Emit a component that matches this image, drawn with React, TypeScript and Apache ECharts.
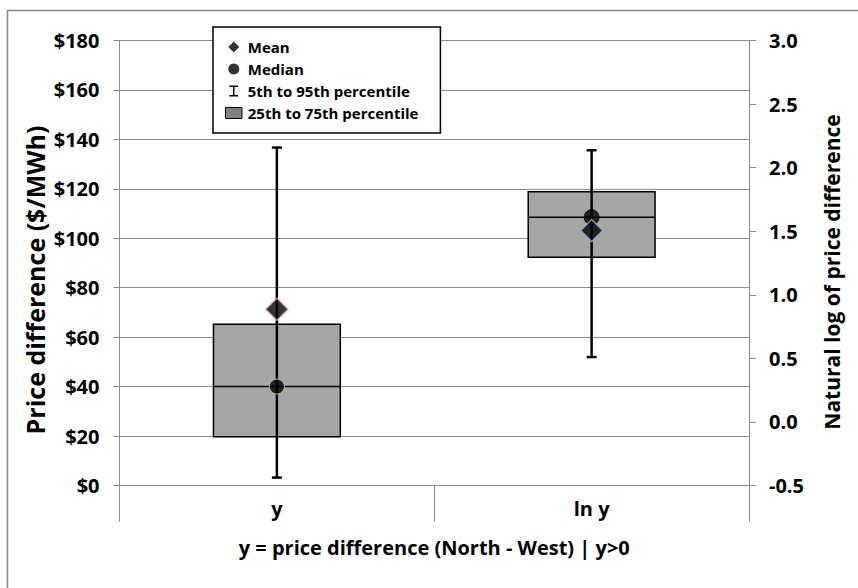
import React, { useEffect, useRef } from 'react';
import * as echarts from 'echarts';

// ---- data ----
const categories = ['y', 'ln y'];
const groupLabel = ['y = price difference (North - West) | y>0'];
const p5 = [3.2, 0.51];
const p25 = [19.7, 1.295];
const medians = [40.0, 1.61];
const p75 = [65.2, 1.81];
const p95 = [136.7, 2.137];
const means = [71.3, 1.505];
const leftRange = [0, 180, 20];
const rightRange = [-0.5, 3.0, 0.5];
const meanBorders = ['#d99694', '#95b3d7'];
const medianBorders = ['#c3d69b', '#000000'];

const FONT = '"Open Sans"';
const GRID_COLOR = '#8c8c8c';

const boxRender = (params: any, api: any) => {
  const xi = api.value(0);
  const lo = api.coord([xi, api.value(1)]);
  const md = api.coord([xi, api.value(2)]);
  const hi = api.coord([xi, api.value(3)]);
  const w = api.size([1, 0])[0] * 0.403;
  const x0 = lo[0] - w / 2;
  return {
    type: 'group',
    children: [
      {
        type: 'rect',
        shape: { x: x0, y: hi[1], width: w, height: lo[1] - hi[1] },
        style: { fill: '#a6a6a6', stroke: '#000', lineWidth: 1.5 },
      },
      {
        type: 'line',
        shape: { x1: x0, y1: md[1], x2: x0 + w, y2: md[1] },
        style: { stroke: '#000', lineWidth: 1.5 },
      },
    ],
  };
};

const whiskerRender = (params: any, api: any) => {
  const xi = api.value(0);
  const lo = api.coord([xi, api.value(1)]);
  const hi = api.coord([xi, api.value(2)]);
  const x = lo[0];
  const cap = 5;
  const st = { stroke: '#000', lineWidth: 2.5 };
  return {
    type: 'group',
    children: [
      { type: 'line', shape: { x1: x, y1: hi[1], x2: x, y2: lo[1] }, style: st },
      { type: 'line', shape: { x1: x - cap, y1: hi[1], x2: x + cap, y2: hi[1] }, style: st },
      { type: 'line', shape: { x1: x - cap, y1: lo[1], x2: x + cap, y2: lo[1] }, style: st },
    ],
  };
};

export default function App() {
  const ref = useRef<HTMLDivElement>(null);
  useEffect(() => {
    if (!ref.current) return;
    const chart = echarts.init(ref.current, null, { renderer: 'svg' });

    const boxSeries = categories.map((_, i) => ({
      name: '25th to 75th percentile',
      type: 'custom',
      xAxisIndex: 0,
      yAxisIndex: i,
      renderItem: boxRender,
      itemStyle: { color: '#808080', borderColor: '#000' },
      encode: { x: 0, y: [1, 2, 3] },
      data: [[i, p25[i], medians[i], p75[i]]],
      clip: false,
      z: 2,
    }));
    const whiskerSeries = categories.map((_, i) => ({
      name: '5th to 95th percentile',
      type: 'custom',
      xAxisIndex: 0,
      yAxisIndex: i,
      renderItem: whiskerRender,
      itemStyle: { color: '#000' },
      encode: { x: 0, y: [1, 2] },
      data: [[i, p5[i], p95[i]]],
      clip: false,
      z: 3,
    }));
    const medianSeries = categories.map((_, i) => ({
      name: 'Median',
      type: 'scatter',
      xAxisIndex: 0,
      yAxisIndex: i,
      symbol: 'circle',
      symbolSize: 15,
      itemStyle: { color: '#000', borderColor: medianBorders[i], borderWidth: 1 },
      data: [[i, medians[i]]],
      z: 4,
    }));
    const meanSeries = categories.map((_, i) => ({
      name: 'Mean',
      type: 'scatter',
      xAxisIndex: 0,
      yAxisIndex: i,
      symbol: 'diamond',
      symbolSize: 22,
      itemStyle: { color: '#000', borderColor: meanBorders[i], borderWidth: 1.5 },
      data: [[i, means[i]]],
      z: 5,
    }));

    const labelStyle = { fontFamily: FONT, fontWeight: 'bold', color: '#000', fontSize: 20 };

    const option: any = {
      animation: false,
      backgroundColor: '#ffffff',
      textStyle: { fontFamily: FONT, fontWeight: 'bold', color: '#000' },
      grid: { left: 119.5, right: 109, top: 40.5, bottom: 102.5 },
      legend: {
        left: 213,
        top: 27,
        orient: 'vertical',
        backgroundColor: '#fff',
        borderColor: '#000',
        borderWidth: 1.5,
        borderRadius: 0,
        padding: [12, 22, 12, 12],
        itemGap: 6,
        itemWidth: 18,
        itemHeight: 11,
        selectedMode: false,
        z: 20,
        textStyle: { fontFamily: FONT, fontWeight: 'bold', fontSize: 15, lineHeight: 16, color: '#000' },
        data: [
          { name: 'Mean', icon: 'path://M5,0 L10,5 L5,10 L0,5 Z', itemStyle: { color: '#000', borderWidth: 0 } },
          { name: 'Median', icon: 'circle', itemStyle: { color: '#000', borderWidth: 0 } },
          {
            name: '5th to 95th percentile',
            icon: 'path://M0,0 L8,0 L8,1.4 L4.7,1.4 L4.7,8.6 L8,8.6 L8,10 L0,10 L0,8.6 L3.3,8.6 L3.3,1.4 L0,1.4 Z',
            itemStyle: { color: '#000', borderWidth: 0 },
          },
          {
            name: '25th to 75th percentile',
            icon: 'path://M0,0 L18,0 L18,12 L0,12 Z',
            itemStyle: { color: '#808080', borderColor: '#000', borderWidth: 1 },
          },
        ],
      },
      xAxis: [
        {
          type: 'category',
          data: categories,
          boundaryGap: true,
          axisLine: { show: true, lineStyle: { color: GRID_COLOR, width: 1 } },
          axisTick: { show: true, length: 36, alignWithLabel: false, lineStyle: { color: GRID_COLOR } },
          axisLabel: { ...labelStyle, margin: 13, interval: 0 },
          splitLine: { show: false },
        },
        {
          type: 'category',
          data: groupLabel,
          position: 'bottom',
          boundaryGap: true,
          axisLine: { show: false },
          axisTick: { show: true, length: 74, alignWithLabel: false, lineStyle: { color: GRID_COLOR } },
          axisLabel: { ...labelStyle, margin: 52, interval: 0 },
          splitLine: { show: false },
        },
      ],
      yAxis: [
        {
          type: 'value',
          min: leftRange[0],
          max: leftRange[1],
          interval: leftRange[2],
          position: 'left',
          axisLine: { show: true, lineStyle: { color: GRID_COLOR } },
          axisTick: { show: true, length: 6, lineStyle: { color: GRID_COLOR } },
          axisLabel: { ...labelStyle, margin: 20, formatter: (v: number) => '$' + v },
          splitLine: { show: true, lineStyle: { color: GRID_COLOR, width: 1 } },
        },
        {
          type: 'value',
          min: rightRange[0],
          max: rightRange[1],
          interval: rightRange[2],
          position: 'right',
          axisLine: { show: true, lineStyle: { color: GRID_COLOR } },
          axisTick: { show: true, length: 7, lineStyle: { color: GRID_COLOR } },
          axisLabel: { ...labelStyle, margin: 20, formatter: (v: number) => v.toFixed(1) },
          splitLine: { show: false },
        },
      ],
      graphic: [
        {
          type: 'rect',
          shape: { x: 7.5, y: 10.5, width: 860, height: 600 },
          style: { fill: 'none', stroke: '#868686', lineWidth: 1.5 },
          silent: true,
          z: -10,
        },
        {
          type: 'text',
          x: 35,
          y: 280,
          rotation: Math.PI / 2,
          style: {
            text: 'Price difference ($/MWh)',
            font: `bold 25px ${FONT}`,
            fill: '#000',
            align: 'center',
            verticalAlign: 'middle',
          },
        },
        {
          type: 'text',
          x: 832,
          y: 272,
          rotation: Math.PI / 2,
          style: {
            text: 'Natural log of price difference',
            font: `bold 21px ${FONT}`,
            fill: '#000',
            align: 'center',
            verticalAlign: 'middle',
          },
        },
      ],
      series: [...boxSeries, ...whiskerSeries, ...medianSeries, ...meanSeries],
    };
    chart.setOption(option);
    return () => chart.dispose();
  }, []);
  return (
    <div
      ref={ref}
      style={{ position: 'fixed', left: 0, top: 0, width: 858, height: 588, background: '#fff' }}
    />
  );
}
